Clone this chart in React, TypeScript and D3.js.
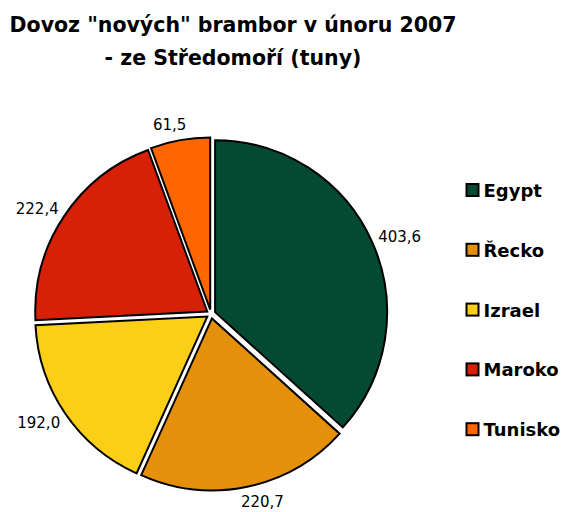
import React from "react";
import * as d3 from "d3";

const categories = ["Egypt", "Řecko", "Izrael", "Maroko", "Tunisko"];
const values = [403.6, 220.7, 192.0, 222.4, 61.5];
const labels = ["403,6", "220,7", "192,0", "222,4", "61,5"];
const colors = ["#044A32", "#E4900A", "#FBCE17", "#D72008", "#FF6600"];
const titleLines = ['Dovoz "nových" brambor v únoru 2007', "- ze Středomoří (tuny)"];

const W = 564;
const H = 512;
const cx = 211;
const cy = 314;
const R = 172;
const explode = 4.5;
const font = "'DejaVu Sans', Verdana, sans-serif";

export default function App() {
  const pie = d3.pie<number>().sort(null).value((d) => d).startAngle(0).endAngle(2 * Math.PI);
  const arcs = pie(values);
  const arcGen = d3.arc<d3.PieArcDatum<number>>().innerRadius(0).outerRadius(R);
  const labelFont = 15;
  const charW = (s: string) => s.length * 0.636 * labelFont - (s.includes(",") ? 0.318 * labelFont : 0);

  return (
    <svg width={W} height={H} style={{ position: "absolute", left: 0, top: 0, background: "#fff" }}>
      <g fontFamily={font} fontWeight="bold" fontSize={20.5} textAnchor="middle" fill="#000">
        <text x={233} y={32}>{titleLines[0]}</text>
        <text x={233} y={64.5}>{titleLines[1]}</text>
      </g>
      <g transform={`translate(${cx},${cy})`}>
        {arcs.map((a, i) => {
          const mid = (a.startAngle + a.endAngle) / 2;
          const ux = Math.sin(mid);
          const uy = -Math.cos(mid);
          return (
            <path
              key={categories[i]}
              d={arcGen(a) || ""}
              transform={`translate(${ux * explode},${uy * explode})`}
              fill={colors[i]}
              stroke="#000"
              strokeWidth={2}
              strokeLinejoin="miter"
            />
          );
        })}
        {arcs.map((a, i) => {
          const mid = (a.startAngle + a.endAngle) / 2;
          const ux = Math.sin(mid);
          const uy = -Math.cos(mid);
          const dist = R + explode + 10;
          const px = ux * dist;
          const py = uy * dist;
          const w = charW(labels[i]);
          const h = 11;
          const fx = Math.sign(ux) * Math.min(0.85, Math.abs(ux) * 3);
          const tx = px + (fx * w) / 2;
          const ty = py + (uy * h) / 2;
          return (
            <text
              key={"l" + i}
              x={tx}
              y={ty + 5.5}
              textAnchor="middle"
              fontFamily={font}
              fontSize={labelFont}
              fill="#000"
            >
              {labels[i]}
            </text>
          );
        })}
      </g>
      <g fontFamily={font} fontWeight="bold" fontSize={18} fill="#000">
        {categories.map((c, i) => {
          const y = 190 + i * 59.8;
          return (
            <g key={c}>
              <rect x={466.5} y={y - 6} width={12} height={12} fill={colors[i]} stroke="#000" strokeWidth={2} />
              <text x={483.5} y={y + 7}>{c}</text>
            </g>
          );
        })}
      </g>
    </svg>
  );
}
